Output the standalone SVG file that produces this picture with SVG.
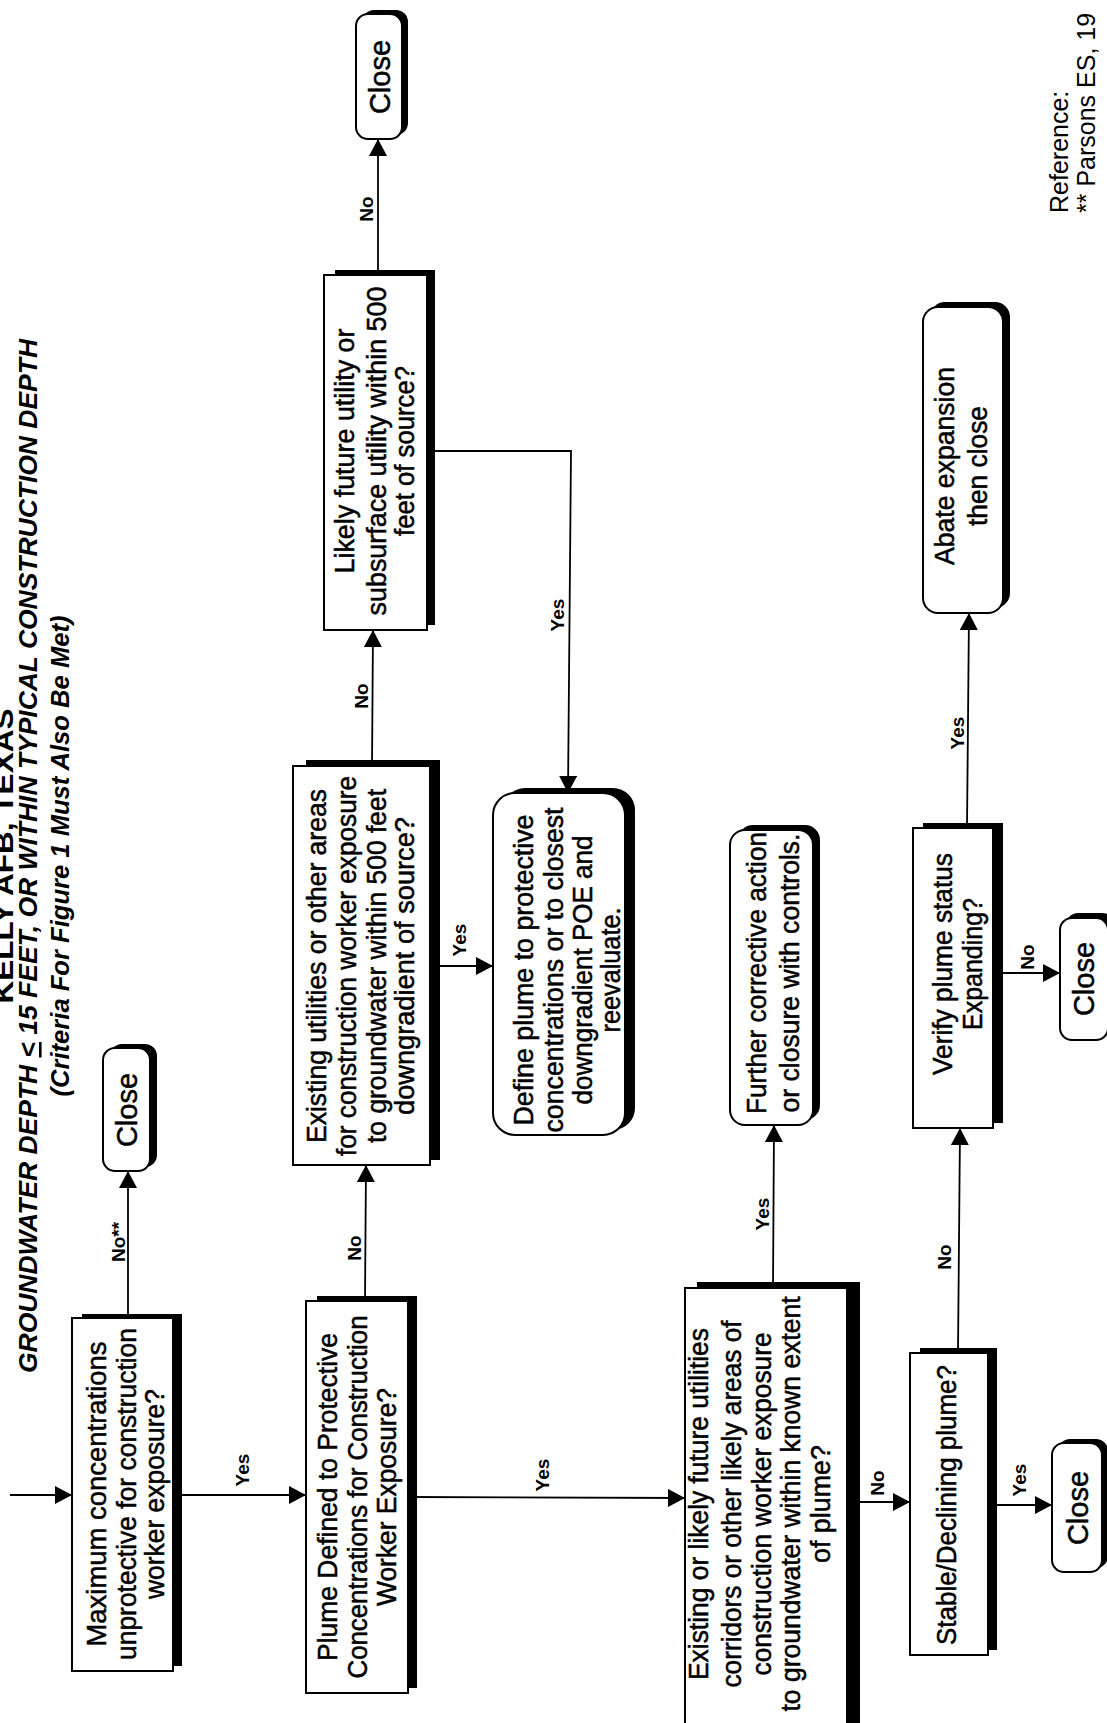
<svg xmlns="http://www.w3.org/2000/svg" width="1107" height="1723" viewBox="0 0 1107 1723">
<style>
text { font-family: "Liberation Sans", Arial, Helvetica, sans-serif; fill: #000; }
.t1 { font-size: 28px; font-weight: bold; text-anchor: middle; }
.t2 { font-size: 26px; font-weight: bold; font-style: italic; text-anchor: middle; }
.n { font-size: 27px; text-anchor: middle; stroke: #000; stroke-width: 0.5; }
.cl { font-size: 29px; text-anchor: middle; stroke: #000; stroke-width: 0.5; }
.lbl { font-size: 19px; font-weight: bold; text-anchor: middle; }
.ref { font-size: 25px; }
.box { fill: #fff; stroke: #000; stroke-width: 2; }
.sh { fill: #000; }
.c { stroke: #000; stroke-width: 1.8; fill: none; }
</style>
<defs>
<marker id="ah" markerUnits="userSpaceOnUse" markerWidth="18" markerHeight="18" refX="17" refY="9" orient="auto">
<path d="M0,0 L17,9 L0,18 z" fill="#000"/>
</marker>
</defs>
<rect x="0" y="0" width="1107" height="1723" fill="#fff"/>

<g id="title">
<text class="t1" transform="translate(13,856) rotate(-90)" textLength="295" lengthAdjust="spacingAndGlyphs">KELLY AFB, TEXAS</text>
<text class="t2" transform="translate(37,856) rotate(-90)" textLength="1034" lengthAdjust="spacingAndGlyphs">GROUNDWATER DEPTH <tspan text-decoration="underline">&lt;</tspan> 15 FEET, OR WITHIN TYPICAL CONSTRUCTION DEPTH</text>
<text class="t2" transform="translate(69,856) rotate(-90)" textLength="481" lengthAdjust="spacingAndGlyphs">(Criteria For Figure 1 Must Also Be Met)</text>
</g>

<g id="connectors">
<line class="c" x1="10" y1="1495" x2="72" y2="1495" marker-end="url(#ah)"/>
<line class="c" x1="128" y1="1318" x2="128" y2="1171" marker-end="url(#ah)"/>
<line class="c" x1="173" y1="1495" x2="306" y2="1495" marker-end="url(#ah)"/>
<line class="c" x1="365" y1="1301" x2="366" y2="1165" marker-end="url(#ah)"/>
<line class="c" x1="408" y1="1497" x2="685" y2="1498" marker-end="url(#ah)"/>
<line class="c" x1="372" y1="766" x2="373" y2="630" marker-end="url(#ah)"/>
<line class="c" x1="430" y1="966" x2="493" y2="966" marker-end="url(#ah)"/>
<line class="c" x1="378" y1="275" x2="378" y2="139" marker-end="url(#ah)"/>
<polyline class="c" points="427,451 571,451 568,793" marker-end="url(#ah)"/>
<line class="c" x1="773" y1="1288" x2="774" y2="1125" marker-end="url(#ah)"/>
<line class="c" x1="847" y1="1502" x2="910" y2="1502" marker-end="url(#ah)"/>
<line class="c" x1="988" y1="1505" x2="1052" y2="1505" marker-end="url(#ah)"/>
<line class="c" x1="958" y1="1353" x2="960" y2="1128" marker-end="url(#ah)"/>
<line class="c" x1="993" y1="973" x2="1060" y2="973" marker-end="url(#ah)"/>
<line class="c" x1="967" y1="828" x2="969" y2="613" marker-end="url(#ah)"/>
<text class="lbl" transform="translate(125,1242) rotate(-90)">No**</text>
<text class="lbl" transform="translate(249,1470) rotate(-90)">Yes</text>
<text class="lbl" transform="translate(361,1248) rotate(-90)">No</text>
<text class="lbl" transform="translate(549,1475) rotate(-90)">Yes</text>
<text class="lbl" transform="translate(368,696) rotate(-90)">No</text>
<text class="lbl" transform="translate(466,940) rotate(-90)">Yes</text>
<text class="lbl" transform="translate(373,209) rotate(-90)">No</text>
<text class="lbl" transform="translate(564,615) rotate(-90)">Yes</text>
<text class="lbl" transform="translate(769,1214) rotate(-90)">Yes</text>
<text class="lbl" transform="translate(884,1483) rotate(-90)">No</text>
<text class="lbl" transform="translate(1026,1480) rotate(-90)">Yes</text>
<text class="lbl" transform="translate(951,1257) rotate(-90)">No</text>
<text class="lbl" transform="translate(1034,957) rotate(-90)">No</text>
<text class="lbl" transform="translate(964,733) rotate(-90)">Yes</text>
</g>

<g id="n1">
<rect class="sh" x="82" y="1314" width="100" height="352"/>
<rect class="box" x="72" y="1318" width="101" height="353"/>
<text class="n" transform="translate(106,1494) rotate(-90)" textLength="305" lengthAdjust="spacingAndGlyphs">Maximum concentrations</text>
<text class="n" transform="translate(136,1494) rotate(-90)" textLength="332" lengthAdjust="spacingAndGlyphs">unprotective for construction</text>
<text class="n" transform="translate(164,1494) rotate(-90)" textLength="210" lengthAdjust="spacingAndGlyphs">worker exposure?</text>
</g>

<g id="close1">
<rect class="sh" x="110" y="1044" width="47" height="123" rx="12"/>
<rect class="box" x="103" y="1048" width="47" height="123" rx="12"/>
<text class="cl" transform="translate(137,1110) rotate(-90)">Close</text>
</g>

<g id="n2">
<rect class="sh" x="317" y="1296" width="100" height="392"/>
<rect class="box" x="306" y="1301" width="102" height="392"/>
<text class="n" transform="translate(337,1497) rotate(-90)" textLength="328" lengthAdjust="spacingAndGlyphs">Plume Defined to Protective</text>
<text class="n" transform="translate(367,1497) rotate(-90)" textLength="363" lengthAdjust="spacingAndGlyphs">Concentrations for Construction</text>
<text class="n" transform="translate(396,1497) rotate(-90)" textLength="218" lengthAdjust="spacingAndGlyphs">Worker Exposure?</text>
</g>

<g id="n3">
<rect class="sh" x="306" y="760" width="134" height="400"/>
<rect class="box" x="293" y="766" width="137" height="399"/>
<text class="n" transform="translate(326,966) rotate(-90)" textLength="354" lengthAdjust="spacingAndGlyphs">Existing utilities or other areas</text>
<text class="n" transform="translate(356,966) rotate(-90)" textLength="380" lengthAdjust="spacingAndGlyphs">for construction worker exposure</text>
<text class="n" transform="translate(386,966) rotate(-90)" textLength="354" lengthAdjust="spacingAndGlyphs">to groundwater within 500 feet</text>
<text class="n" transform="translate(414,966) rotate(-90)" textLength="298" lengthAdjust="spacingAndGlyphs">downgradient of source?</text>
</g>

<g id="n4">
<rect class="sh" x="335" y="270" width="100" height="355"/>
<rect class="box" x="324" y="275" width="103" height="355"/>
<text class="n" transform="translate(354,451) rotate(-90)" textLength="245" lengthAdjust="spacingAndGlyphs">Likely future utility or</text>
<text class="n" transform="translate(386,451) rotate(-90)" textLength="329" lengthAdjust="spacingAndGlyphs">subsurface utility within 500</text>
<text class="n" transform="translate(414,451) rotate(-90)" textLength="170" lengthAdjust="spacingAndGlyphs">feet of source?</text>
</g>

<g id="close2">
<rect class="sh" x="362" y="10" width="46" height="125" rx="12"/>
<rect class="box" x="356" y="14" width="46" height="125" rx="12"/>
<text class="cl" transform="translate(390,77) rotate(-90)">Close</text>
</g>

<g id="n5">
<rect class="sh" x="503" y="788" width="132" height="342" rx="22"/>
<rect class="box" x="493" y="793" width="132" height="342" rx="22"/>
<text class="n" transform="translate(533,970) rotate(-90)" textLength="311" lengthAdjust="spacingAndGlyphs">Define plume to protective</text>
<text class="n" transform="translate(563,970) rotate(-90)" textLength="325" lengthAdjust="spacingAndGlyphs">concentrations or to closest</text>
<text class="n" transform="translate(592,970) rotate(-90)" textLength="269" lengthAdjust="spacingAndGlyphs">downgradient POE and</text>
<text class="n" transform="translate(620,970) rotate(-90)" textLength="125" lengthAdjust="spacingAndGlyphs">reevaluate.</text>
</g>

<g id="n6">
<rect class="sh" x="738" y="825" width="82" height="295" rx="15"/>
<rect class="box" x="730" y="830" width="83" height="295" rx="15"/>
<text class="n" transform="translate(766,973) rotate(-90)" textLength="282" lengthAdjust="spacingAndGlyphs">Further corrective action</text>
<text class="n" transform="translate(799,973) rotate(-90)" textLength="279" lengthAdjust="spacingAndGlyphs">or closure with controls.</text>
</g>

<g id="n7">
<rect class="sh" x="697" y="1282" width="163" height="460"/>
<rect class="box" x="685" y="1288" width="162" height="460"/>
<text class="n" transform="translate(708,1504) rotate(-90)" textLength="352" lengthAdjust="spacingAndGlyphs">Existing or likely future utilities</text>
<text class="n" transform="translate(741,1504) rotate(-90)" textLength="367" lengthAdjust="spacingAndGlyphs">corridors or other likely areas of</text>
<text class="n" transform="translate(771,1504) rotate(-90)" textLength="343" lengthAdjust="spacingAndGlyphs">construction worker exposure</text>
<text class="n" transform="translate(800,1504) rotate(-90)" textLength="415" lengthAdjust="spacingAndGlyphs">to groundwater within known extent</text>
<text class="n" transform="translate(830,1504) rotate(-90)" textLength="118" lengthAdjust="spacingAndGlyphs">of plume?</text>
</g>

<g id="n8">
<rect class="sh" x="920" y="1348" width="77" height="302"/>
<rect class="box" x="910" y="1353" width="78" height="302"/>
<text class="n" transform="translate(956,1505) rotate(-90)" textLength="280" lengthAdjust="spacingAndGlyphs">Stable/Declining plume?</text>
</g>

<g id="close3">
<rect class="sh" x="1058" y="1439" width="50" height="129" rx="12"/>
<rect class="box" x="1052" y="1443" width="50" height="129" rx="12"/>
<text class="cl" transform="translate(1088,1508) rotate(-90)">Close</text>
</g>

<g id="n9">
<rect class="sh" x="923" y="823" width="80" height="300"/>
<rect class="box" x="913" y="828" width="80" height="300"/>
<text class="n" transform="translate(952,964) rotate(-90)" textLength="222" lengthAdjust="spacingAndGlyphs">Verify plume status</text>
<text class="n" transform="translate(982,964) rotate(-90)" textLength="132" lengthAdjust="spacingAndGlyphs">Expanding?</text>
</g>

<g id="close4">
<rect class="sh" x="1066" y="913" width="48" height="122" rx="12"/>
<rect class="box" x="1060" y="918" width="48" height="122" rx="12"/>
<text class="cl" transform="translate(1094,979) rotate(-90)">Close</text>
</g>

<g id="n10">
<rect class="sh" x="930" y="302" width="80" height="306" rx="15"/>
<rect class="box" x="923" y="307" width="80" height="306" rx="15"/>
<text class="n" transform="translate(954,466) rotate(-90)" textLength="198" lengthAdjust="spacingAndGlyphs">Abate expansion</text>
<text class="n" transform="translate(987,466) rotate(-90)" textLength="120" lengthAdjust="spacingAndGlyphs">then close</text>
</g>

<g id="reference">
<text class="ref" transform="translate(1068,213) rotate(-90)">Reference:</text>
<text class="ref" transform="translate(1095,213) rotate(-90)">** Parsons ES, 19</text>
</g>
</svg>
